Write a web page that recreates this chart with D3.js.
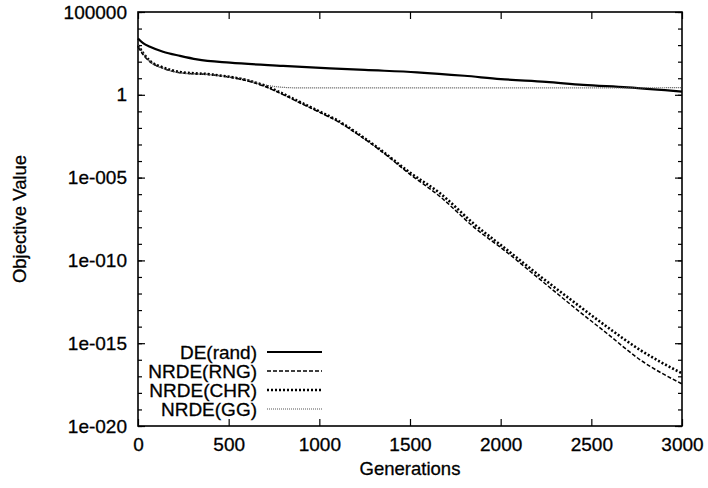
<!DOCTYPE html>
<html>
<head>
<meta charset="utf-8">
<script src="https://cdn.jsdelivr.net/npm/d3@7"></script>
<style>
  body { margin: 0; background: #fff; }
  svg { display: block; font-family: "Liberation Sans", Arial, sans-serif; }
  svg text { stroke: #000; stroke-width: 0.3px; fill: #000; }
</style>
</head>
<body>
<svg id="chart"></svg>
<script>
// generations sampled along each curve, values stored as log10 exponents
const genDE  = [0, 30, 66, 138, 232, 325, 507, 800, 1059, 1250, 1539, 1800, 2000, 2250, 2455, 2700, 3000];
const expDE  = [3.4, 3.1, 2.9, 2.6, 2.35, 2.14, 1.94, 1.75, 1.6, 1.5, 1.36, 1.15, 0.95, 0.78, 0.6, 0.45, 0.19];

const genRNG = [0, 30, 66, 138, 232, 414, 600, 700, 783, 877, 1000, 1100, 1200, 1335, 1500, 1666, 1849, 2033, 2217, 2401, 2585, 2769, 3000];
const expRNG = [2.9, 2.4, 2.0, 1.6, 1.33, 1.2, 0.85, 0.5, 0.1, -0.4, -1.05, -1.6, -2.3, -3.35, -4.8, -6.15, -7.96, -9.5, -11.15, -12.8, -14.4, -16.0, -17.46];

const genCHR = [0, 30, 66, 138, 232, 414, 600, 700, 783, 877, 1000, 1100, 1200, 1335, 1500, 1666, 1849, 2033, 2217, 2401, 2585, 2769, 3000];
const expCHR = [3.0, 2.5, 2.05, 1.65, 1.38, 1.22, 0.88, 0.55, 0.15, -0.35, -1.0, -1.55, -2.25, -3.3, -4.7, -5.95, -7.76, -9.35, -10.95, -12.49, -14.0, -15.41, -16.82];

const genGG  = [0, 30, 66, 138, 232, 414, 600, 690, 780, 877, 1200, 1600, 2000, 2500, 3000];
const expGG  = [3.0, 2.5, 2.0, 1.6, 1.33, 1.2, 0.92, 0.62, 0.47, 0.42, 0.42, 0.42, 0.42, 0.42, 0.43];

const seriesNames = ['DE(rand)', 'NRDE(RNG)', 'NRDE(CHR)', 'NRDE(GG)'];
const xTicks = [0, 500, 1000, 1500, 2000, 2500, 3000];
const yMajor = [1e5, 1, 1e-5, 1e-10, 1e-15, 1e-20];
const yMajorLabels = ['100000', '1', '1e-005', '1e-010', '1e-015', '1e-020'];

const config = {
    width: 708, height: 488,
    margin: { top: 12, right: 26, bottom: 62, left: 138 }
};

const W = config.width - config.margin.left - config.margin.right;
const H = config.height - config.margin.top - config.margin.bottom;

const svg = d3.select('#chart')
    .attr('width', config.width)
    .attr('height', config.height);

const chart = svg.append('g')
    .attr('transform', `translate(${config.margin.left},${config.margin.top})`);

const x = d3.scaleLinear().domain([0, 3000]).range([0, W]);
const y = d3.scaleLog().domain([1e-20, 1e5]).range([H, 0]);

const decades = d3.range(-20, 6).map(e => Math.pow(10, e));

function styleAxis(g) {
    g.select('.domain').remove();
    g.selectAll('.tick line').attr('stroke', '#000').attr('stroke-width', 1.2);
    g.selectAll('.tick text').attr('fill', '#000').style('font-size', '19px');
}

// bottom / top
chart.append('g')
    .attr('transform', `translate(0,${H})`)
    .call(d3.axisBottom(x).tickValues(xTicks).tickSize(-7).tickPadding(12).tickFormat(d3.format('d')))
    .call(styleAxis);
chart.append('g')
    .call(d3.axisTop(x).tickValues(xTicks).tickSize(-7).tickFormat(''))
    .call(styleAxis);

// left / right, minor ticks every decade
const yLabel = d => yMajorLabels[yMajor.indexOf(d)];
chart.append('g')
    .call(d3.axisLeft(y).tickValues(yMajor).tickSize(-7).tickPadding(11).tickFormat(yLabel))
    .call(styleAxis);
chart.append('g')
    .call(d3.axisLeft(y).tickValues(decades).tickSize(-4).tickFormat(''))
    .call(styleAxis);
chart.append('g')
    .attr('transform', `translate(${W},0)`)
    .call(d3.axisRight(y).tickValues(yMajor).tickSize(-7).tickFormat(''))
    .call(styleAxis);
chart.append('g')
    .attr('transform', `translate(${W},0)`)
    .call(d3.axisRight(y).tickValues(decades).tickSize(-4).tickFormat(''))
    .call(styleAxis);

// frame
chart.append('rect')
    .attr('width', W).attr('height', H)
    .attr('fill', 'none').attr('stroke', '#000').attr('stroke-width', 1.6);

// series
const styles = [
    { stroke: '#000', width: 2.2, dash: null },
    { stroke: '#000', width: 1.5, dash: '4,2' },
    { stroke: '#000', width: 2.6, dash: '2,2' },
    { stroke: '#555', width: 1.2, dash: '1,1' }
];
const series = [
    genDE.map((g, i) => [g, Math.pow(10, expDE[i])]),
    genRNG.map((g, i) => [g, Math.pow(10, expRNG[i])]),
    genCHR.map((g, i) => [g, Math.pow(10, expCHR[i])]),
    genGG.map((g, i) => [g, Math.pow(10, expGG[i])])
];

const line = d3.line()
    .x(d => x(d[0]))
    .y(d => y(d[1]))
    .curve(d3.curveMonotoneX);

chart.selectAll('.series')
    .data(series)
    .join('path')
    .attr('class', 'series')
    .attr('d', line)
    .attr('fill', 'none')
    .attr('stroke', (d, i) => styles[i].stroke)
    .attr('stroke-width', (d, i) => styles[i].width)
    .attr('stroke-dasharray', (d, i) => styles[i].dash);

// legend
const legend = chart.append('g')
    .attr('transform', 'translate(0,340)');
seriesNames.forEach((name, i) => {
    const row = legend.append('g').attr('transform', `translate(0,${i * 19})`);
    row.append('text')
        .attr('x', 119)
        .attr('y', 0)
        .attr('dy', '0.35em')
        .attr('text-anchor', 'end')
        .style('font-size', '19px')
        .text(name);
    row.append('line')
        .attr('x1', 129).attr('x2', 184)
        .attr('y1', 0).attr('y2', 0)
        .attr('stroke', styles[i].stroke)
        .attr('stroke-width', styles[i].width)
        .attr('stroke-dasharray', styles[i].dash);
});

// axis titles
svg.append('text')
    .attr('x', config.margin.left + W / 2)
    .attr('y', 475)
    .attr('text-anchor', 'middle')
    .style('font-size', '18.5px')
    .text('Generations');

svg.append('text')
    .attr('transform', `translate(26,${config.margin.top + H / 2}) rotate(-90)`)
    .attr('text-anchor', 'middle')
    .style('font-size', '18.5px')
    .text('Objective Value');
</script>
</body>
</html>
